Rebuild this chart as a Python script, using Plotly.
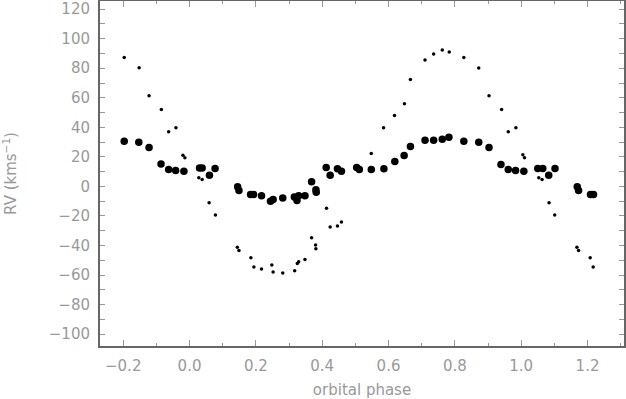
import plotly.graph_objects as go

# Curva de velocidad radial: componente primaria (puntos grandes) y secundaria (puntos pequeños)
phase_big = [-0.197, -0.153, -0.122, -0.086, -0.063, -0.042, -0.017, 0.030, 0.038, 0.060,
             0.077, 0.145, 0.149, 0.184, 0.193, 0.217, 0.244, 0.252, 0.281, 0.316,
             0.324, 0.329, 0.348, 0.368, 0.381, 0.382, 0.412, 0.424, 0.446, 0.458,
             0.504, 0.512, 0.548, 0.586, 0.619, 0.647, 0.666, 0.710, 0.736, 0.762,
             0.782, 0.827, 0.872, 0.903, 0.939, 0.961, 0.983, 1.008, 1.050, 1.065,
             1.083, 1.102, 1.169, 1.173, 1.209, 1.218]
rv_big = [30.6, 29.9, 26.4, 15.1, 11.5, 10.8, 10.3, 12.4, 12.4, 7.6,
          12.2, -0.3, -2.7, -5.4, -5.4, -6.3, -10.1, -8.8, -7.9, -7.2,
          -9.5, -6.3, -6.3, 3.2, -2.2, -3.9, 12.8, 7.6, 12.0, 10.3,
          12.8, 11.5, 11.5, 12.0, 16.9, 20.9, 27.0, 31.3, 31.3, 32.0,
          33.3, 30.6, 29.9, 26.4, 14.9, 11.5, 10.8, 10.3, 12.2, 12.2,
          7.6, 12.2, -0.3, -2.7, -5.4, -5.4]

phase_small = [-0.197, -0.152, -0.122, -0.085, -0.063, -0.041, -0.020, -0.014, 0.028, 0.038,
               0.059, 0.078, 0.144, 0.149, 0.185, 0.194, 0.217, 0.248, 0.252, 0.281,
               0.317, 0.325, 0.329, 0.348, 0.368, 0.380, 0.381, 0.413, 0.424, 0.446,
               0.458, 0.548, 0.585, 0.618, 0.648, 0.666, 0.710, 0.736, 0.762, 0.783,
               0.827, 0.872, 0.903, 0.941, 0.961, 0.984, 1.005, 1.010, 1.053, 1.063,
               1.084, 1.101, 1.168, 1.173, 1.208, 1.217]
rv_small = [87.2, 80.4, 61.3, 52.0, 37.0, 39.7, 21.1, 19.4, 5.9, 4.7,
            -11.0, -19.4, -41.2, -43.4, -48.2, -54.5, -55.9, -53.2, -57.9, -58.6,
            -57.0, -52.2, -50.9, -49.5, -34.7, -39.7, -42.1, -14.7, -27.5, -26.8,
            -24.1, 22.3, 39.7, 48.0, 55.9, 72.3, 85.6, 89.7, 92.4, 91.0,
            87.2, 80.2, 61.3, 52.0, 37.0, 39.7, 21.4, 19.4, 5.9, 4.7,
            -11.0, -19.4, -41.2, -43.4, -48.2, -54.5]

x_ticks = [-0.2, 0.0, 0.2, 0.4, 0.6, 0.8, 1.0, 1.2]
x_ticktext = ["\u22120.2", "0.0", "0.2", "0.4", "0.6", "0.8", "1.0", "1.2"]
y_ticks = [120, 100, 80, 60, 40, 20, 0, -20, -40, -60, -80, -100]
y_ticktext = [str(v).replace("-", "\u2212") for v in y_ticks]

GRIS = "#999999"
EJE = "#666666"

fig = go.Figure()
fig.add_trace(go.Scatter(
    x=phase_small, y=rv_small, mode="markers",
    marker=dict(size=3.5, color="black"),
    showlegend=False,
))
fig.add_trace(go.Scatter(
    x=phase_big, y=rv_big, mode="markers",
    marker=dict(size=7.5, color="black"),
    showlegend=False,
))

fig.update_layout(
    width=626, height=399,
    plot_bgcolor="white", paper_bgcolor="white",
    margin=dict(l=100, r=2, t=1, b=53),
    font=dict(family="DejaVu Sans", color=GRIS, size=14),
)
fig.update_xaxes(
    range=[-0.27, 1.31], automargin=False,
    tickvals=x_ticks, ticktext=x_ticktext,
    ticks="inside", ticklen=6, tickcolor=GRIS, tickwidth=1,
    minor=dict(dtick=0.1, ticks="inside", ticklen=3, tickcolor=GRIS),
    showline=True, linecolor=EJE, linewidth=2, mirror="ticks",
    showgrid=False, zeroline=False, ticklabelstandoff=5,
    tickfont=dict(size=15, color=GRIS),
    title=dict(text="orbital phase", font=dict(size=15, color=GRIS), standoff=14),
)
fig.update_yaxes(
    range=[-108, 125.5], automargin=False,
    tickvals=y_ticks, ticktext=y_ticktext,
    ticks="inside", ticklen=5, tickcolor=GRIS, tickwidth=1,
    minor=dict(dtick=10, ticks="inside", ticklen=5, tickcolor=GRIS),
    showline=True, linecolor=EJE, linewidth=2, mirror="ticks",
    showgrid=False, zeroline=False, ticklabelstandoff=5,
    tickfont=dict(size=15, color=GRIS),
    title=dict(text="RV (kms<sup>\u22121</sup>)", font=dict(size=15, color=GRIS), standoff=30),
)

# quitar el margen por defecto del <body> para que la figura empiece en (0, 0)
fig.write_html("out.html", config={"displayModeBar": False},
               post_script="document.body.style.margin='0';")
